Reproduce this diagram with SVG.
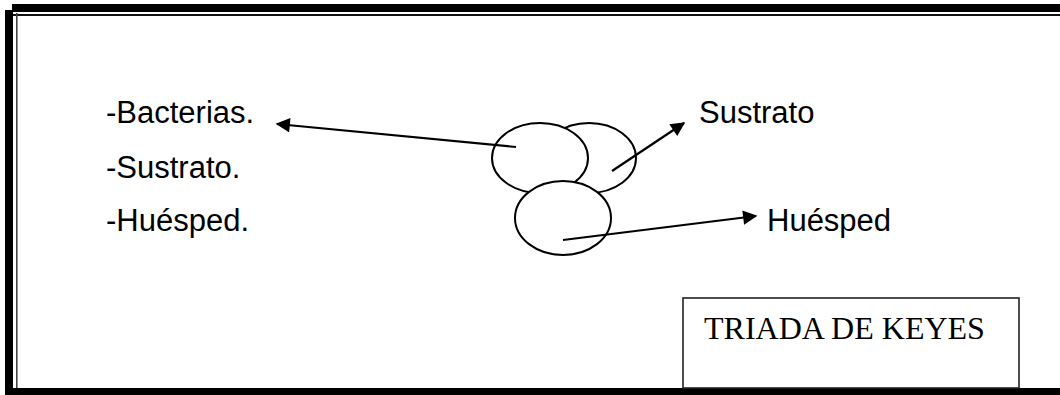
<svg xmlns="http://www.w3.org/2000/svg" width="1060" height="395" viewBox="0 0 1060 395">
<defs>
<style>
.lbl{font-family:"Liberation Sans",Arial,sans-serif;font-size:31px;fill:#000}
.ttl{font-family:"Liberation Serif","Times New Roman",serif;font-size:32px;fill:#000}
.ell{fill:#fff;stroke:#000;stroke-width:2}
.conn{stroke:#000;stroke-width:2.2;fill:none;marker-end:url(#ah)}
</style>
<marker id="ah" viewBox="0 0 10 10" refX="9" refY="5" markerWidth="8" markerHeight="6.5" markerUnits="strokeWidth" orient="auto">
<path d="M0,0 L10,5 L0,10 z" fill="#000"/>
</marker>
</defs>
<rect width="1060" height="395" fill="#fff"/>
<g id="border">
<rect x="12" y="4" width="1048" height="8" fill="#000"/>
<rect x="13" y="14" width="1047" height="2" fill="#111"/>
<rect x="5" y="10" width="8" height="385" fill="#000"/>
<rect x="16" y="13" width="1.6" height="375" fill="#444"/>
<rect x="5" y="388" width="1055" height="7" fill="#000"/>
</g>
<g id="list">
<text class="lbl" x="106" y="123">-Bacterias.</text>
<text class="lbl" x="106" y="178">-Sustrato.</text>
<text class="lbl" x="106" y="231">-Huésped.</text>
</g>
<g id="ellipse-b"><ellipse class="ell" cx="589" cy="158" rx="47" ry="35"/></g>
<g id="ellipse-a"><ellipse class="ell" cx="540" cy="158" rx="48" ry="35"/></g>
<g id="ellipse-c"><ellipse class="ell" cx="563" cy="218" rx="48" ry="37"/></g>
<g id="label-sustrato"><text class="lbl" x="699" y="123">Sustrato</text></g>
<g id="label-huesped"><text class="lbl" x="767" y="231">Huésped</text></g>
<g id="title-box">
<rect x="683" y="298" width="336" height="90" fill="#fff" stroke="#222" stroke-width="1.6"/>
<text class="ttl" x="704" y="339">TRIADA DE KEYES</text>
</g>
<g id="connectors">
<line class="conn" x1="516" y1="147" x2="277" y2="124"/>
<line class="conn" x1="612" y1="171" x2="684" y2="123"/>
<line class="conn" x1="563" y1="240" x2="756" y2="216"/>
</g>
</svg>
